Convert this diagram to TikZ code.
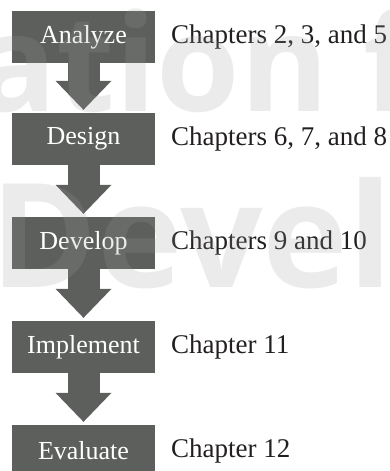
\documentclass[tikz,border=0pt]{standalone}
\usepackage{fontspec}
\setmainfont{Liberation Serif}
\newfontfamily\markfont{Open Sans}
\usetikzlibrary{arrows.meta}
\definecolor{stepgray}{HTML}{5D5F5C}
\definecolor{notegray}{HTML}{231F20}
\definecolor{markgray}{HTML}{9D9D9D}
\tikzset{
  phase/.style={fill=stepgray, text=white, minimum width=143pt, minimum height=52pt, inner sep=0pt, font=\fontsize{26}{30}\selectfont},
  chap/.style={anchor=west, inner sep=0pt, text=notegray, font=\fontsize{27}{32}\selectfont},
  flow/.style={draw=stepgray, line width=32pt, -{Triangle[width=56pt,length=29pt,line width=0pt]}, shorten >=3pt},
  wmark/.style={anchor=base west, inner sep=0pt, text=markgray, text opacity=0.2, font=\markfont\bfseries\fontsize{#1}{150}\selectfont},
  wmark/.default=145
}
\begin{document}
\begin{tikzpicture}[x=1pt, y=-1pt]
\clip (0,0) rectangle (390,471);
\node[phase] (B_0) at (83.5,37) {Analyze};
\node[chap] (C_0) at (171,37) {Chapters 2, 3, and 5};
\node[phase] (B_1) at (83.5,139) {Design};
\node[chap] (C_1) at (171,139) {Chapters 6, 7, and 8};
\draw[flow] (B_0) -- (B_1);
\node[phase] (B_2) at (83.5,243) {Develop};
\node[chap] (C_2) at (171,243) {Chapters 9 and 10};
\draw[flow] (B_1) -- (B_2);
\node[phase] (B_3) at (83.5,347) {Implement};
\node[chap] (C_3) at (171,347) {Chapter 11};
\draw[flow] (B_2) -- (B_3);
\node[phase] (B_4) at (83.5,451) {Evaluate};
\node[chap] (C_4) at (171,451) {Chapter 12};
\draw[flow] (B_3) -- (B_4);
% faint lettering behind the page
\node[wmark=135] (W_0) at (-25,111) {ation f};
\node[wmark] (W_1) at (-10,287) {Develo};
\end{tikzpicture}
\end{document}
